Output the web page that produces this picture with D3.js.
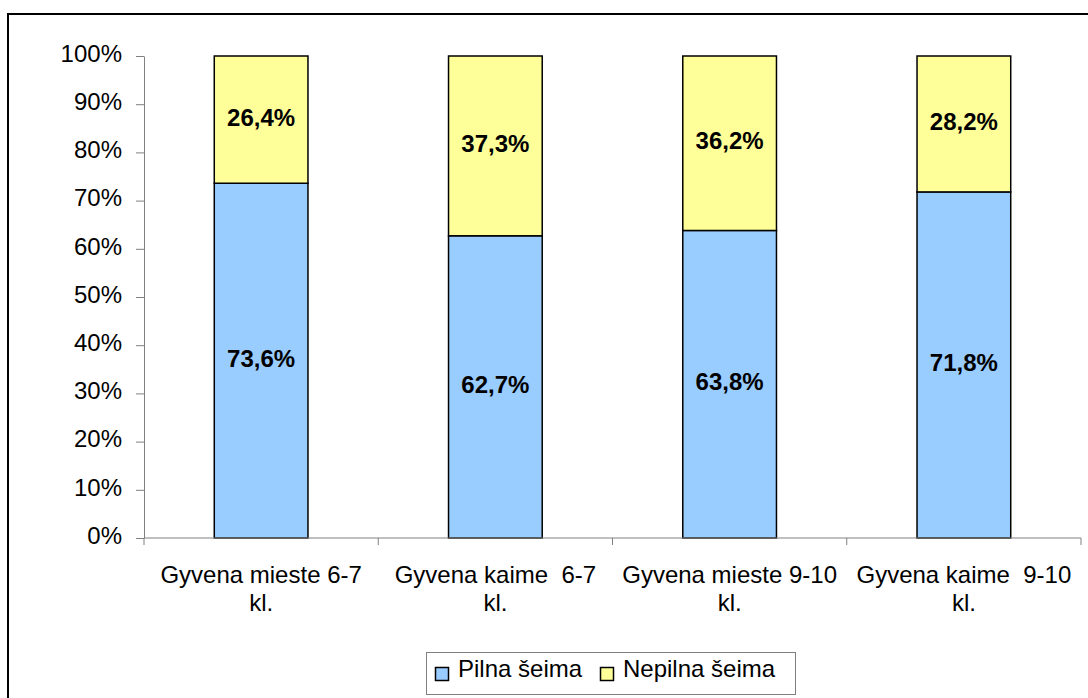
<!DOCTYPE html>
<meta charset="utf-8">
<style>
body { margin: 0; background: #fff; }
svg { font-family: Arial, "Liberation Sans", sans-serif; }
.axis path, .axis line { stroke: #808080; }
.axis text { font-size: 24px; fill: #000; }
.bar { stroke: #000; stroke-width: 1.5px; }
.lbl { font-size: 24px; font-weight: bold; text-anchor: middle; }
.cat { font-size: 24px; text-anchor: middle; white-space: pre; }
.leg { font-size: 24px; white-space: pre; }
</style>
<body>
<script src="https://d3js.org/d3.v7.min.js"></script>
<script>

// data
var categories = ["Gyvena mieste 6-7 kl.", "Gyvena kaime  6-7 kl.", "Gyvena mieste 9-10 kl.", "Gyvena kaime  9-10 kl."];
var categoryLines = [["Gyvena mieste 6-7", "kl."], ["Gyvena kaime  6-7", "kl."], ["Gyvena mieste 9-10", "kl."], ["Gyvena kaime  9-10", "kl."]];
var seriesNames = ["Pilna šeima", "Nepilna šeima"];
var pilna = [73.6, 62.7, 63.8, 71.8];
var nepilna = [26.4, 37.3, 36.2, 28.2];
var yTicks = [0, 10, 20, 30, 40, 50, 60, 70, 80, 90, 100];
var colors = ["#99ccff", "#ffff99"];

var W = 1088, H = 698;
var svg = d3.select("body").append("svg")
    .attr("width", W)
    .attr("height", H);

// outer chart border (runs off the right and bottom)
svg.append("rect")
    .attr("x", 8).attr("y", 14)
    .attr("width", W + 20).attr("height", H + 20)
    .attr("fill", "none")
    .attr("stroke", "#000")
    .attr("stroke-width", 2);

var x = d3.scaleBand()
    .domain(categories)
    .range([144, 1081])
    .paddingInner(0.6)
    .paddingOuter(0.3);

var y = d3.scaleLinear().domain([0, 100]).range([538, 56]);

var stack = d3.stack().keys([0, 1]).value(function(d, k) { return d[k]; });
var rows = categories.map(function(c, i) { var r = [pilna[i], nepilna[i]]; r.cat = c; return r; });
var layers = stack(rows);

// y axis
var yAxis = svg.append("g")
    .attr("class", "axis")
    .attr("transform", "translate(144,0)")
    .call(d3.axisLeft(y)
      .tickValues(yTicks)
      .tickFormat(function(d) { return d + "%"; })
      .tickSize(8)
      .tickSizeOuter(0)
      .tickPadding(14));
yAxis.select(".domain").attr("stroke", "#808080");
yAxis.selectAll("text").attr("dy", "0.22em");

// bars
layers.forEach(function(layer, li) {
  svg.append("g").selectAll("rect")
    .data(layer)
    .enter().append("rect")
      .attr("class", "bar")
      .attr("fill", colors[li])
      .attr("x", function(d) { return x(d.data.cat); })
      .attr("width", x.bandwidth())
      .attr("y", function(d) { return y(d[1]); })
      .attr("height", function(d) { return y(d[0]) - y(d[1]); });

  svg.append("g").selectAll("text")
    .data(layer)
    .enter().append("text")
      .attr("class", "lbl")
      .attr("x", function(d) { return x(d.data.cat) + x.bandwidth() / 2; })
      .attr("y", function(d) { return (y(d[0]) + y(d[1])) / 2 + 6; })
      .text(function(d) { return d3.format(".1f")(d[1] - d[0]).replace(".", ",") + "%"; });
});

// x axis (ticks between categories)
var step = x.step();
var x0 = x.range()[0], x1 = x.range()[1];
var xAxis = svg.append("g").attr("class", "axis");
xAxis.append("line")
    .attr("x1", x0).attr("x2", x1)
    .attr("y1", y(0)).attr("y2", y(0));
xAxis.selectAll(".tk")
    .data(d3.range(categories.length + 1))
    .enter().append("line")
      .attr("x1", function(i) { return x0 + i * step; })
      .attr("x2", function(i) { return x0 + i * step; })
      .attr("y1", y(0)).attr("y2", y(0) + 7);

categoryLines.forEach(function(lines, i) {
  var t = svg.append("text")
      .attr("class", "cat")
      .attr("x", x(categories[i]) + x.bandwidth() / 2)
      .attr("y", 583);
  lines.forEach(function(l, j) {
    t.append("tspan")
      .attr("x", x(categories[i]) + x.bandwidth() / 2)
      .attr("dy", j === 0 ? 0 : 28)
      .text(l);
  });
});

// legend
var leg = svg.append("g");
leg.append("rect")
    .attr("x", 426.5).attr("y", 652.5)
    .attr("width", 369).attr("height", 42)
    .attr("fill", "#fff")
    .attr("stroke", "#808080");
var legX = [435, 600];
seriesNames.forEach(function(s, i) {
  leg.append("rect")
    .attr("x", legX[i] + 0.5).attr("y", 667.5)
    .attr("width", 13).attr("height", 13)
    .attr("fill", colors[i])
    .attr("stroke", "#000")
    .attr("stroke-width", 1.5);
  leg.append("text")
    .attr("class", "leg")
    .attr("x", legX[i] + 23)
    .attr("y", 677)
    .text(s);
});

</script>
</body>
